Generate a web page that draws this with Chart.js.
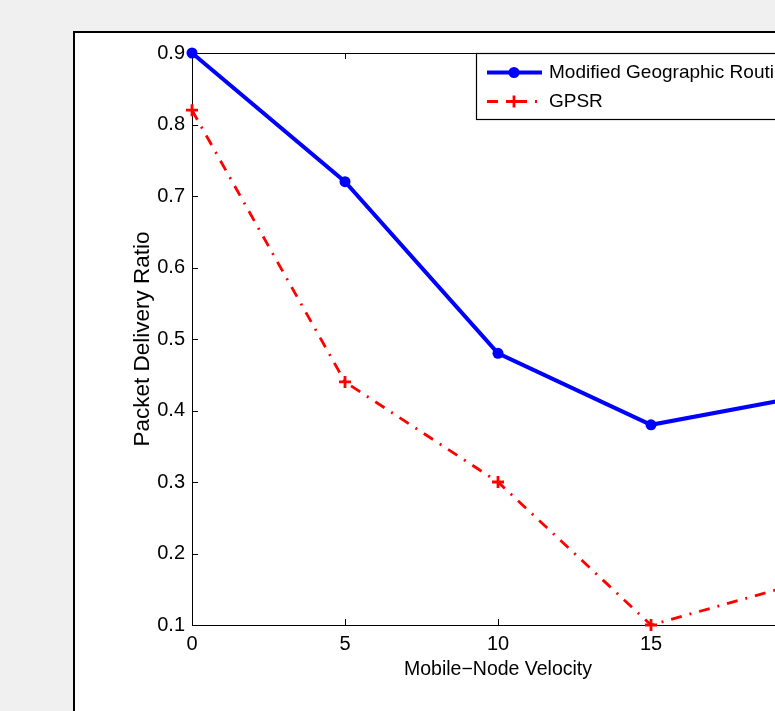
<!DOCTYPE html>
<html>
<head>
<meta charset="utf-8">
<script src="https://cdn.jsdelivr.net/npm/chart.js@4"></script>
<style>
  html, body { margin: 0; padding: 0; }
  body { width: 775px; height: 711px; overflow: hidden; background: #f0f0f0; position: relative; }
  #panel { position: absolute; left: 73px; top: 31px; width: 800px; height: 800px; background: #fff; border: 2px solid #000; box-sizing: border-box; }
  #chart { position: absolute; left: 0; top: 0; }
</style>
</head>
<body>
<div id="panel"></div>
<canvas id="chart" width="900" height="711"></canvas>
<script>
// velocities on the x axis
const velocities = [0, 5, 10, 15, 20];
// packet delivery ratio per protocol
const modifiedRatio = [0.90, 0.72, 0.48, 0.38, 0.42];
const gpsrRatio = [0.82, 0.44, 0.30, 0.10, 0.16];
const seriesNames = ['Modified Geographic Routing', 'GPSR'];
const xTitle = 'Mobile\u2212Node Velocity';
const yTitle = 'Packet Delivery Ratio';

const FONT = '"Liberation Sans", Arial, Helvetica, sans-serif';

const toPoints = (ys) => velocities.map((v, i) => ({ x: v, y: ys[i] }));

// box round the axes with inward ticks, like matlab
const frame = {
    id: 'frame',
    beforeDatasetsDraw(chart) {
        const { ctx, chartArea: a, scales } = chart;
        ctx.save();
        ctx.strokeStyle = '#000';
        ctx.lineWidth = 1;
        ctx.strokeRect(Math.round(a.left) + 0.5, Math.round(a.top) + 0.5, a.right - a.left, a.bottom - a.top);
        ctx.beginPath();
        scales.y.ticks.forEach(t => {
            const py = Math.round(scales.y.getPixelForValue(t.value)) + 0.5;
            ctx.moveTo(a.left, py); ctx.lineTo(a.left + 6, py);
            ctx.moveTo(a.right, py); ctx.lineTo(a.right - 6, py);
        });
        scales.x.ticks.forEach(t => {
            const px = Math.round(scales.x.getPixelForValue(t.value)) + 0.5;
            ctx.moveTo(px, a.bottom); ctx.lineTo(px, a.bottom - 6);
            ctx.moveTo(px, a.top); ctx.lineTo(px, a.top + 6);
        });
        ctx.stroke();
        ctx.restore();
    }
};

// legend box in the top right corner
const boxLegend = {
    id: 'boxLegend',
    afterDraw(chart) {
        const { ctx } = chart;
        const x0 = 476.5, y0 = 53.5, w = 318, h = 66;
        ctx.save();
        ctx.fillStyle = '#fff';
        ctx.fillRect(x0, y0, w, h);
        ctx.strokeStyle = '#000';
        ctx.lineWidth = 1.2;
        ctx.strokeRect(x0, y0, w, h);
        const rows = [72.5, 101.5];
        chart.data.datasets.forEach((ds, i) => {
            const y = rows[i];
            ctx.strokeStyle = ds.borderColor;
            ctx.lineWidth = ds.borderWidth;
            ctx.setLineDash(ds.borderDash || []);
            ctx.beginPath();
            ctx.moveTo(487, y); ctx.lineTo(542, y);
            ctx.stroke();
            ctx.setLineDash([]);
            if (ds.pointStyle === 'circle') {
                ctx.fillStyle = ds.pointBackgroundColor;
                ctx.beginPath();
                ctx.arc(514, y, ds.pointRadius, 0, Math.PI * 2);
                ctx.fill();
            } else {
                ctx.lineWidth = ds.pointBorderWidth;
                ctx.beginPath();
                ctx.moveTo(514 - ds.pointRadius, y); ctx.lineTo(514 + ds.pointRadius, y);
                ctx.moveTo(514, y - ds.pointRadius); ctx.lineTo(514, y + ds.pointRadius);
                ctx.stroke();
            }
            ctx.fillStyle = '#000';
            ctx.font = '19px ' + FONT;
            ctx.textBaseline = 'middle';
            ctx.fillText(ds.label, 549, y);
        });
        ctx.restore();
    }
};

new Chart(document.getElementById('chart'), {
    type: 'line',
    data: {
        datasets: [{
            label: seriesNames[0],
            data: toPoints(modifiedRatio),
            borderColor: '#0000ff',
            borderWidth: 4,
            pointStyle: 'circle',
            pointRadius: 5.5,
            pointBackgroundColor: '#0000ff',
            pointBorderColor: '#0000ff',
            pointBorderWidth: 0,
            clip: false
        }, {
            label: seriesNames[1],
            data: toPoints(gpsrRatio),
            borderColor: '#ff0000',
            borderWidth: 2.8,
            borderDash: [11, 8, 2, 8],
            pointStyle: 'cross',
            pointRadius: 6,
            pointBorderColor: '#ff0000',
            pointBorderWidth: 2.8,
            clip: false
        }]
    },
    options: {
        responsive: false,
        animation: false,
        events: [],
        layout: { padding: { top: 53, right: 96, left: 0, bottom: 0 } },
        plugins: { legend: { display: false }, tooltip: { enabled: false } },
        scales: {
            x: {
                type: 'linear',
                min: 0, max: 20,
                afterFit: s => { s.height = 86; },
                ticks: { stepSize: 5, color: '#000', padding: 7, font: { family: FONT, size: 20 } },
                grid: { display: false, drawTicks: false },
                border: { display: false },
                title: { display: true, text: xTitle, color: '#000', font: { family: FONT, size: 19.5 }, padding: { top: 0, bottom: 30 } }
            },
            y: {
                min: 0.1, max: 0.9,
                afterFit: s => { s.width = 192; },
                ticks: { stepSize: 0.1, color: '#000', padding: 7, font: { family: FONT, size: 20 }, callback: v => v.toFixed(1) },
                grid: { display: false, drawTicks: false },
                border: { display: false },
                title: { display: true, text: yTitle, color: '#000', font: { family: FONT, size: 22.5 }, padding: { top: 129.5, bottom: 0 } }
            }
        }
    },
    plugins: [frame, boxLegend]
});
</script>
</body>
</html>
